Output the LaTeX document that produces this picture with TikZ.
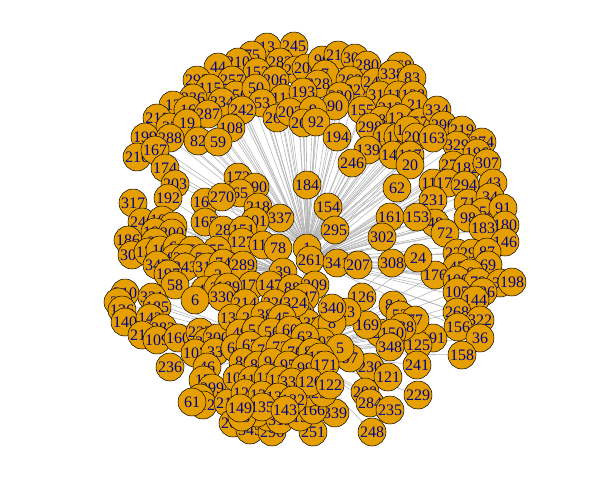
\documentclass[tikz,border=0pt]{standalone}
\usepackage{fontspec}
\setmainfont{Liberation Serif}
\pgfdeclarelayer{back}
\pgfdeclarelayer{bg}
\pgfsetlayers{back,bg,main}
\definecolor{vfill}{HTML}{E69F00}
\definecolor{vtext}{HTML}{00008B}
\definecolor{egray}{HTML}{B4B4B4}
\begin{document}
\begin{tikzpicture}[x=1pt,y=-1pt,
  v/.style={circle,draw=black,line width=0.5pt,fill=vfill,minimum size=28pt,inner sep=0pt,
    text=vtext,font=\fontsize{16}{16}\selectfont},
  e/.style={draw=egray,line width=0.55pt}]
\begin{pgfonlayer}{back}
\fill[white] (0,0) rectangle (590,501);
\end{pgfonlayer}
\useasboundingbox (0,0) rectangle (590,501);
% top arc
\foreach \l/\x/\y in {13/267/47, 245/294/46, 75/252/55, 210/238/62, 283/280/62, 44/218/67, 152/257/72, 220/296/70, 204/306/68, 96/322/60, 217/338/55, 306/355/58, 280/367/65, 7/325/74, 293/197/80, 257/232/80, 206/275/80, 115/210/88, 256/236/95, 50/256/88, 336/193/98, 111/283/98, 328/318/84, 193/303/92, 263/350/80, 327/357/90, 320/340/96, 90/335/106, 244/375/82, 168/400/66, 338/392/74, 83/412/78, 311/380/95, 116/398/95, 128/413/95, 12/173/105, 234/222/102, 53/262/103, 16/188/110, 287/208/114, 242/242/110, 265/277/118, 202/290/112, 9/313/110, 260/303/123, 92/316/122, 155/362/110, 313/390/108, 21/415/105, 281/382/120, 124/400/118, 57/420/122, 334/437/110, 290/443/125, 219/462/130, 274/482/142, 329/457/145, 196/477/153, 298/370/127, 141/387/137, 114/398/137, 148/408/130, 201/416/137, 163/433/138, 194/337/137, 211/157/118, 35/170/127, 19/187/123, 108/231/128, 199/145/137, 288/170/138, 82/198/141, 59/218/142, 216/137/157, 167/155/150, 139/368/150, 145/393/155, 117/410/155, 20/410/165, 246/352/163}
  \node[v] (v\l) at (\x,\y) {\l};
% right
\foreach \l/\x/\y in {276/453/165, 182/467/168, 307/487/163, 113/433/183, 175/448/183, 294/465/185, 43/493/183, 231/433/200, 71/468/203, 34/490/197, 254/483/212, 91/503/208, 98/468/218, 48/435/223, 180/505/225, 183/483/228, 72/445/233, 146/505/242, 228/457/253, 297/472/253, 87/487/252, 69/488/265, 47/457/267, 264/470/273, 176/435/275, 100/457/280, 79/478/282, 32/500/283, 198/512/282, 105/457/292, 226/483/292, 144/475/300, 268/457/312, 322/480/320, 156/458/327, 36/480/338, 158/462/355, 191/433/338, 125/418/345, 241/417/365, 229/418/395}
  \node[v] (v\l) at (\x,\y) {\l};
% middle
\foreach \l/\x/\y in {184/307/185, 62/397/188, 154/328/207, 161/390/217, 153/417/217, 295/335/230, 302/382/237, 1/307/248, 261/310/260, 341/337/263, 207/358/265, 308/392/263, 24/418/258, 126/362/297, 84/393/305, 52/400/315, 77/415/320, 238/402/327, 27/380/333, 150/392/333, 348/390/347, 169/367/325, 23/347/312, 230/370/367, 121/388/377, 208/365/392, 284/370/403, 235/390/410, 248/372/432, 97/350/358, 339/335/413, 251/313/432}
  \node[v] (v\l) at (\x,\y) {\l};
% left
\foreach \l/\x/\y in {174/165/168, 203/175/184, 172/238/177, 190/255/187, 65/240/193, 317/133/203, 192/168/198, 164/205/202, 270/222/197, 218/258/207, 337/280/218, 165/205/222, 101/255/221, 28/223/230, 151/243/230, 240/142/222, 102/162/220, 81/173/226, 195/155/232, 200/172/233, 186/128/240, 93/155/242, 127/242/242, 118/263/245, 78/278/248, 301/132/255, 131/148/252, 10/160/250, 64/177/247, 250/192/250, 55/217/250, 85/175/258, 205/185/258, 54/203/258, 347/157/265, 243/185/267, 318/207/267, 74/223/263, 289/243/265, 197/168/274, 2/218/275, 58/175/285, 39/283/272, 179/252/285, 147/270/285, 88/292/288, 209/315/285, 247/305/297, 41/205/290, 31/218/288, 189/228/287, 310/125/293, 321/152/297, 330/222/297, 6/195/300, 37/118/302, 136/122/310, 185/157/307, 214/245/303, 140/125/322, 142/150/318, 282/163/328, 213/142/335, 109/157/340, 160/178/338, 222/200/332, 314/207/342, 300/217/338, 107/195/353, 33/215/352, 236/170/367, 46/207/367, 17/203/380, 299/212/388, 4/200/398, 312/203/405, 61/192/402, 215/228/403, 269/233/423, 345/250/430, 296/272/432, 303/268/417, 249/257/413, 68/242/417, 319/280/420, 15/300/417, 166/313/410, 134/308/393, 292/323/393}
  \node[v] (v\l) at (\x,\y) {\l};
% dense bottom cluster
\foreach \l/\x/\y in {106/300/313, 137/307/323, 11/325/328, 8/332/323, 340/332/308, 326/275/303, 324/295/303, 103/322/342, 5/340/348, 133/232/318, 22/250/318, 38/265/315, 45/282/318, 49/240/333, 51/256/330, 56/272/332, 60/290/330, 63/305/337, 66/235/348, 67/250/345, 70/265/350, 73/280/347, 76/295/352, 80/312/352, 159/320/357, 86/243/362, 89/258/365, 94/272/362, 95/288/365, 99/305/368, 171/325/365, 104/237/378, 110/252/380, 112/268/378, 119/280/380, 335/292/382, 120/310/382, 122/330/385, 123/245/393, 129/262/395, 130/278/397, 132/293/400, 135/262/407, 143/285/410, 149/240/408}
  \node[v] (v\l) at (\x,\y) {\l};
\begin{pgfonlayer}{bg}
\foreach \t in {293,257,206,111,242,265,202,260,92,193,194,328,320,90,155,313,298,141,114,148,201,163,139,145,117,20,246,62,184,154,295,108,82,59,19,288,216,167,174,203,12,287,234,53,256,50,9,327,311,116,128,290,334,219,329,283,245,13,210,75,152,220,204,7,263,244,281,124,57,21,336,16,35,211,199,115,44,217,306,96,261}
  \draw[e] (v1.center) -- (v\t.center);
\foreach \t in {276,182,113,175,294,231,71,98,48,72,153,161,302,308,24,228,297,176,47,100,105,268,322,156,144,87,69,32,198,79,226,264,146,183,254,180,91,34,43,307,196,274,62,20,117,76,60,73,45,95,335}
  \draw[e] (v261.center) -- (v\t.center);
\foreach \t in {301,131,347,250,55,93,195,200,102,240,186,317,192,165,164,28,151,127,289,318,243,54,205,172,190,65,270,218,101,337,118,78,10,64,85,81,197,58}
  \draw[e] (v39.center) -- (v\t.center);
\foreach \t in {268,322,156,36,158,191,125,241,229,238,84,77,52,348,27,150,230,121,208,284,235,248,310,136,140,37,321,185,142,282,213,109,160,222,236,107,46,126,169,23,176,24,308,100,105,144}
  \draw[e] (v76.center) -- (v\t.center);
\end{pgfonlayer}
\end{tikzpicture}
\end{document}
